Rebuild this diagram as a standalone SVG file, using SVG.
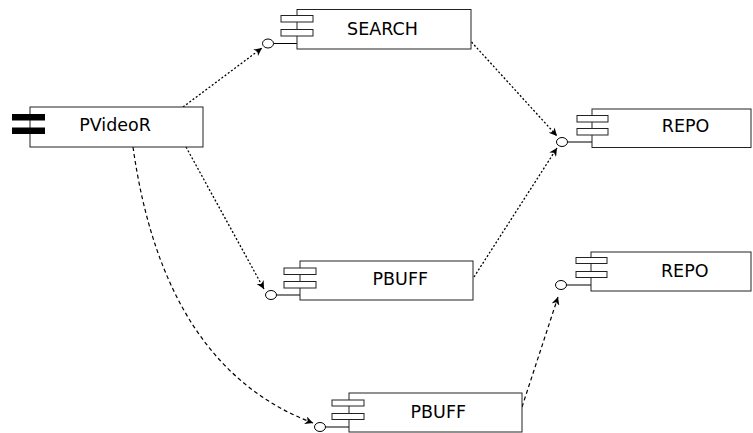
<svg xmlns="http://www.w3.org/2000/svg" width="753" height="433" viewBox="0 0 753 433">
<defs>
<style>
.box{fill:#fff;stroke:#222;stroke-width:1}
.bar{fill:#fff;stroke:#222;stroke-width:1}
.jack{fill:#000;stroke:none}
.lollipop{fill:#fff;stroke:#000;stroke-width:1}
.stick{stroke:#000;stroke-width:1}
.lbl{font-family:"DejaVu Sans",sans-serif;font-size:17.5px;text-anchor:middle;fill:#000}
.dot{fill:none;stroke:#000;stroke-width:1.3;stroke-dasharray:2,2}
.dash{fill:none;stroke:#000;stroke-width:1.2;stroke-dasharray:4,3}
</style>
<marker id="arr" viewBox="0 0 10 10" refX="10" refY="5" markerWidth="9" markerHeight="8" markerUnits="userSpaceOnUse" orient="auto">
<path d="M0,0 L10,5 L0,10 L3,5 z" fill="#000"/>
</marker>
</defs>
<rect width="753" height="433" fill="#fff"/>

<g id="connectors">
<path class="dot" d="M183,107 L262,48" marker-end="url(#arr)"/>
<path class="dot" d="M471.5,42 L557,136" marker-end="url(#arr)"/>
<path class="dot" d="M186,147 L264,289" marker-end="url(#arr)"/>
<path class="dot" d="M474,277 L557,148" marker-end="url(#arr)"/>
<path class="dash" d="M133,147 Q164,367 313,423" marker-end="url(#arr)"/>
<path class="dash" d="M522,407 L558,297" marker-end="url(#arr)"/>
</g>

<g id="PVideoR">
<rect class="box" x="30" y="107" width="173" height="40"/>
<rect class="jack" x="12" y="114" width="33" height="6.5"/>
<rect class="jack" x="12" y="127.5" width="33" height="6.5"/>
<text class="lbl" x="115" y="131">PVideoR</text>
</g>

<g id="SEARCH">
<line class="stick" x1="273.5" y1="43.5" x2="297" y2="43.5"/>
<ellipse class="lollipop" cx="268" cy="43.5" rx="5.5" ry="4.5"/>
<rect class="box" x="297" y="9.5" width="174" height="39.5"/>
<rect class="bar" x="281" y="15.5" width="32" height="6.5"/>
<rect class="bar" x="281" y="29.5" width="32" height="6.5"/>
<text class="lbl" x="382.5" y="35">SEARCH</text>
</g>

<g id="REPO1">
<line class="stick" x1="567.5" y1="142" x2="592" y2="142"/>
<ellipse class="lollipop" cx="562" cy="142" rx="5.5" ry="4.5"/>
<rect class="box" x="592" y="109" width="159" height="38.5"/>
<rect class="bar" x="577" y="115.5" width="31" height="6.5"/>
<rect class="bar" x="577" y="128.5" width="31" height="6.5"/>
<text class="lbl" x="685.5" y="132.3">REPO</text>
</g>

<g id="PBUFF1">
<line class="stick" x1="276.5" y1="295" x2="300" y2="295"/>
<ellipse class="lollipop" cx="271" cy="295" rx="5.5" ry="4.5"/>
<rect class="box" x="300" y="261" width="173" height="39"/>
<rect class="bar" x="284" y="268" width="32" height="6.5"/>
<rect class="bar" x="284" y="281.5" width="32" height="6.5"/>
<text class="lbl" x="400.3" y="285">PBUFF</text>
</g>

<g id="REPO2">
<line class="stick" x1="566.5" y1="285" x2="591" y2="285"/>
<ellipse class="lollipop" cx="561" cy="285" rx="5.5" ry="4.5"/>
<rect class="box" x="591" y="252" width="160" height="39"/>
<rect class="bar" x="576" y="257.5" width="31" height="6"/>
<rect class="bar" x="576" y="271.5" width="31" height="6"/>
<text class="lbl" x="684.7" y="276.7">REPO</text>
</g>

<g id="PBUFF2">
<line class="stick" x1="325.5" y1="427" x2="349" y2="427"/>
<ellipse class="lollipop" cx="320" cy="427" rx="5.5" ry="4.5"/>
<rect class="box" x="349" y="393" width="173" height="39"/>
<rect class="bar" x="332" y="400" width="32" height="6"/>
<rect class="bar" x="332" y="413.5" width="32" height="6"/>
<text class="lbl" x="438.3" y="418.3">PBUFF</text>
</g>
</svg>
